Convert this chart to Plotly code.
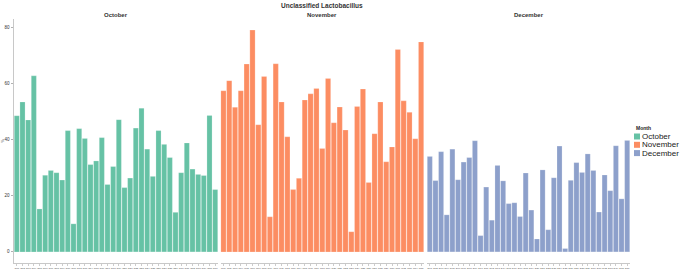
import plotly.graph_objects as go

months = ["October", "November", "December"]
colors = ["#66c2a5", "#fc8d62", "#8da0cb"]

october = [48.5, 53.4, 47.0, 62.7, 15.3, 27.3, 29.0, 28.2, 25.6, 43.2, 10.0, 43.9,
           40.4, 31.1, 32.4, 40.7, 24.0, 30.4, 47.1, 22.9, 26.3, 44.1, 51.2, 36.6,
           26.9, 43.2, 38.3, 33.6, 14.1, 28.2, 38.8, 29.5, 27.6, 27.2, 48.6, 22.2]
november = [57.4, 61.0, 51.5, 57.4, 66.9, 79.0, 45.3, 62.5, 12.5, 67.0, 53.4, 41.0,
            22.2, 26.2, 54.1, 56.3, 58.2, 36.8, 61.8, 46.0, 51.6, 43.4, 7.2, 51.8,
            58.0, 24.7, 42.1, 53.4, 32.1, 37.4, 72.1, 53.8, 49.7, 40.3, 74.8]
december = [34.0, 25.4, 35.7, 13.2, 36.6, 25.7, 32.0, 33.6, 39.6, 5.8, 23.1, 11.3,
            30.8, 25.3, 17.2, 17.5, 12.6, 28.1, 14.9, 4.6, 29.2, 7.9, 26.4, 37.7,
            1.2, 25.5, 31.8, 28.3, 34.9, 29.0, 14.2, 27.4, 21.8, 37.8, 18.9, 39.7]

oct_samples = [f"O{i:02d}" for i in range(1, len(october) + 1)]
nov_samples = [f"N{i:02d}" for i in range(1, len(november) + 1)]
dec_samples = [f"D{i:02d}" for i in range(1, len(december) + 1)]

y_ticks = [0, 20, 40, 60, 80]
title = "Unclassified Lactobacillus"

W, H = 685, 271
ML, MR, MT, MB = 14, 55, 19, 8
PW, PH = W - ML - MR, H - MT - MB


def px(x):
    return (x - ML) / PW


def py(y):
    return 1 - (y - MT) / PH


FONT = "Liberation Sans, Arial, sans-serif"

fig = go.Figure()
series = [(october, oct_samples), (november, nov_samples), (december, dec_samples)]
domains = [[px(14), px(218)], [px(220.5), px(424)], [px(427), px(630)]]

for i, (vals, cats) in enumerate(series):
    n = "" if i == 0 else str(i + 1)
    fig.add_trace(go.Bar(
        x=cats, y=vals, name=months[i],
        marker=dict(color=colors[i], line=dict(color="rgba(255,255,255,0.5)", width=0.4)),
        xaxis="x" + n, yaxis="y" + n, showlegend=False,
    ))
    fig.layout["xaxis" + n] = dict(
        domain=domains[i], anchor="y" + n, type="category", automargin=False,
        showgrid=False, zeroline=False, showline=True, linecolor="#c8c8c8", linewidth=1,
        ticks="outside", ticklen=2, tickwidth=0.5, tickcolor="#999999",
        tickangle=0, tickfont=dict(size=2.5, color="#555555", family=FONT),
        fixedrange=True,
    )
    fig.layout["yaxis" + n] = dict(
        anchor="x" + n, range=[-3.95, 82.95], tickvals=y_ticks, automargin=False,
        showgrid=False, zeroline=False,
        showline=(i == 0), linecolor="#c8c8c8", linewidth=1.5,
        ticks="outside" if i == 0 else "", ticklen=2, tickwidth=0.5, tickcolor="#666666",
        showticklabels=(i == 0), tickfont=dict(size=4.5, color="#333333", family=FONT),
        title=dict(text="%", font=dict(size=4, color="#444444"), standoff=2) if i == 0 else None,
    )
    fig.add_annotation(
        x=(domains[i][0] + domains[i][1]) / 2, y=py(15), xref="paper", yref="paper",
        text=f"<b>{months[i]}</b>", showarrow=False, xanchor="center", yanchor="middle",
        font=dict(size=6, color="#333333", family=FONT),
    )

fig.add_annotation(
    x=px(322), y=py(5.5), xref="paper", yref="paper", text=f"<b>{title}</b>",
    showarrow=False, xanchor="center", yanchor="middle",
    font=dict(size=6.5, color="#333333", family=FONT),
)

# legend drawn manually
fig.add_annotation(
    x=px(634), y=py(128), xref="paper", yref="paper", text="<b>Month</b>",
    showarrow=False, xanchor="left", yanchor="middle",
    font=dict(size=5, color="#222222", family=FONT),
)
for k, m in enumerate(months):
    cy = 136.5 + 8.3 * k
    fig.add_shape(type="rect", xref="paper", yref="paper",
                  x0=px(634), x1=px(640), y0=py(cy - 3), y1=py(cy + 3),
                  fillcolor=colors[k], line=dict(width=0))
    fig.add_annotation(
        x=px(640.5), y=py(cy), xref="paper", yref="paper", text=m,
        showarrow=False, xanchor="left", yanchor="middle", borderpad=0,
        font=dict(size=8, color="#222222", family=FONT),
    )

fig.update_layout(
    width=W, height=H, margin=dict(l=ML, r=MR, t=MT, b=MB, pad=0, autoexpand=False),
    paper_bgcolor="white", plot_bgcolor="white",
    bargap=0.1, showlegend=False, font=dict(family=FONT),
)

fig.write_html(
    "out.html",
    config={"displayModeBar": False, "staticPlot": True},
    post_script="document.body.style.margin='0px';document.body.style.padding='0px';",
)
